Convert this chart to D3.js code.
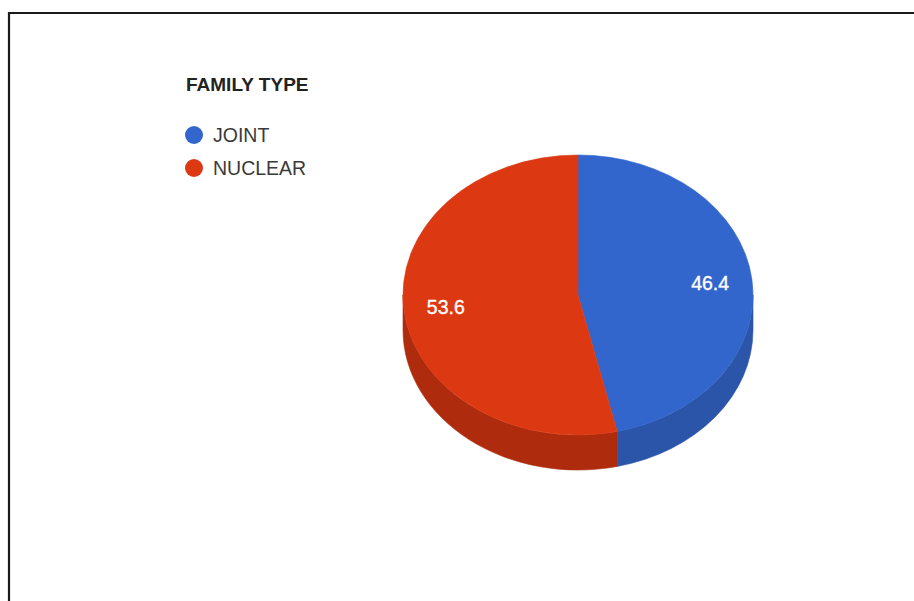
<!DOCTYPE html>
<html>
<head>
<meta charset="utf-8">
<script src="https://cdn.jsdelivr.net/npm/d3@7"></script>
<style>
  html, body { margin: 0; padding: 0; background: #fff; }
  svg { display: block; }
</style>
</head>
<body>
<svg id="chart" width="914" height="601"></svg>
<script>
// Family type split (percent)
const categories = ["JOINT", "NUCLEAR"];
const values = [46.4, 53.6];
const colors = ["#3366cc", "#dc3912"];
const sideColors = ["#2a55a8", "#ae2b0d"];
const legendTitle = "FAMILY TYPE";

const svg = d3.select("#chart");
const W = 914, H = 601;
const font = "Liberation Sans, Arial, sans-serif";

// frame
svg.append("path")
  .attr("d", `M9,${H + 2} L9,13 L${W + 2},13`)
  .attr("fill", "none").attr("stroke", "#1a1a1a").attr("stroke-width", 2.2);

// pie geometry (tilted ellipse)
const cx = 578, cy = 295, rx = 175, ry = 140, depth = 35;
const px = a => cx + rx * Math.sin(a);
const py = a => cy - ry * Math.cos(a);

const color = d3.scaleOrdinal().domain(categories).range(colors);
const sideColor = d3.scaleOrdinal().domain(categories).range(sideColors);

const pie = d3.pie().sort(null).value(d => d.v);
const arcs = pie(categories.map((c, i) => ({ c, v: values[i] })));

// side walls: only the front half (angles between PI/2 and 3PI/2) is visible
const sideG = svg.append("g");
arcs.forEach(d => {
  const s = Math.max(d.startAngle, Math.PI / 2);
  const e = Math.min(d.endAngle, 3 * Math.PI / 2);
  if (e <= s) return;
  const large = (e - s) > Math.PI ? 1 : 0;
  const p = `M${px(s)},${py(s)} A${rx},${ry} 0 ${large} 1 ${px(e)},${py(e)}` +
            ` L${px(e)},${py(e) + depth} A${rx},${ry} 0 ${large} 0 ${px(s)},${py(s) + depth} Z`;
  sideG.append("path").attr("d", p).attr("fill", sideColor(d.data.c))
    .attr("stroke", sideColor(d.data.c)).attr("stroke-width", 0.6);
});

// top faces
const topG = svg.append("g");
arcs.forEach(d => {
  const a0 = d.startAngle, a1 = d.endAngle;
  const large = (a1 - a0) > Math.PI ? 1 : 0;
  const p = `M${cx},${cy} L${px(a0)},${py(a0)} A${rx},${ry} 0 ${large} 1 ${px(a1)},${py(a1)} Z`;
  topG.append("path").attr("d", p).attr("fill", color(d.data.c))
    .attr("stroke", color(d.data.c)).attr("stroke-width", 0.6);
});

// value labels
const labelR = 0.76;
topG.selectAll("text.val").data(arcs).join("text")
  .attr("class", "val")
  .attr("x", d => cx + rx * labelR * Math.sin((d.startAngle + d.endAngle) / 2))
  .attr("y", d => cy - ry * labelR * Math.cos((d.startAngle + d.endAngle) / 2))
  .attr("text-anchor", "middle")
  .attr("dy", "0.35em")
  .attr("fill", "#fff").attr("stroke", "#fff").attr("stroke-width", 0.35)
  .attr("font-family", font)
  .attr("font-size", 19.5)
  .text(d => d.data.v.toFixed(1));

// legend
const lg = svg.append("g");
lg.append("text").attr("x", 186).attr("y", 91)
  .attr("font-family", font)
  .attr("font-size", 19).attr("font-weight", "bold").attr("fill", "#222")
  .text(legendTitle);
const items = lg.selectAll("g.item").data(categories).join("g")
  .attr("class", "item")
  .attr("transform", (d, i) => `translate(194,${135 + i * 33})`);
items.append("circle").attr("r", 9).attr("fill", d => color(d));
items.append("text").attr("x", 19).attr("dy", "0.36em")
  .attr("font-family", font)
  .attr("font-size", 19.5).attr("fill", "#3a3a3a")
  .text(d => d);
</script>
</body>
</html>
